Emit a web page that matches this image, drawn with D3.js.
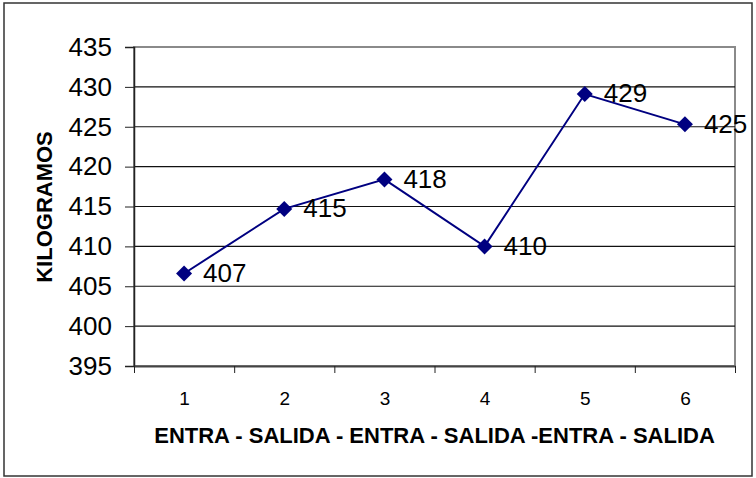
<!DOCTYPE html>
<html>
<head>
<meta charset="utf-8">
<script src="https://cdn.jsdelivr.net/npm/d3@7"></script>
<style>
  html, body { margin: 0; padding: 0; background: #fff; }
  svg { display: block; font-family: "Liberation Sans", Arial, sans-serif; }
</style>
</head>
<body>
<svg id="chart" width="756" height="478"></svg>
<script>
// Weight readings per measurement (entra / salida alternating)
const categories = [1, 2, 3, 4, 5, 6];
const kilogramos = [406.6, 414.7, 418.4, 410.0, 429.1, 425.3];
const yTicks = [395, 400, 405, 410, 415, 420, 425, 430, 435];
const xTitle = "ENTRA - SALIDA - ENTRA - SALIDA -ENTRA - SALIDA";
const yTitle = "KILOGRAMOS";

const svg = d3.select("#chart");
const m = { left: 134, top: 47, right: 21, bottom: 112 };
const W = 756 - m.left - m.right;
const H = 478 - m.top - m.bottom;

// outer chart frame
svg.append("rect")
  .attr("x", 4).attr("y", 3).attr("width", 748).attr("height", 473)
  .attr("fill", "#fff").attr("stroke", "#333").attr("stroke-width", 1.5);

const g = svg.append("g").attr("transform", `translate(${m.left},${m.top})`);

const x = d3.scaleLinear().domain([0.5, 6.5]).range([0, W]);
const y = d3.scaleLinear().domain([395, 435]).range([H, 0]);

// plot area border
g.append("rect")
  .attr("x", 0).attr("y", 0).attr("width", W).attr("height", H)
  .attr("fill", "none").attr("stroke", "#8a8a8a").attr("stroke-width", 2);

// horizontal gridlines
g.append("g")
  .selectAll("line")
  .data(yTicks.slice(1, -1))
  .join("line")
  .attr("x1", 0).attr("x2", W)
  .attr("y1", d => y(d)).attr("y2", d => y(d))
  .attr("stroke", "#111").attr("stroke-width", 1.2);

// y axis
const yAxis = g.append("g")
  .call(d3.axisLeft(y).tickValues(yTicks).tickSize(9).tickPadding(13).tickFormat(d3.format("d")));
yAxis.select(".domain").attr("stroke", "#222").attr("stroke-width", 1.5);
yAxis.selectAll(".tick line").attr("stroke", "#222");
yAxis.selectAll("text")
  .attr("fill", "#000").style("font-size", "26px").style("font-family", "Liberation Sans, Arial, sans-serif");

// x axis: tick marks between categories
const boundaries = d3.range(0.5, 7, 1);
const xTickAxis = g.append("g")
  .attr("transform", `translate(0,${H})`)
  .call(d3.axisBottom(x).tickValues(boundaries).tickSize(7).tickSizeOuter(0).tickFormat(""));
xTickAxis.select(".domain").attr("stroke", "#444").attr("stroke-width", 2);
xTickAxis.selectAll(".tick line").attr("stroke", "#222");

// x axis: category labels centred in each slot
const xLabelAxis = g.append("g")
  .attr("transform", `translate(0,${H})`)
  .call(d3.axisBottom(x).tickValues(categories).tickSize(0).tickPadding(26).tickFormat(d3.format("d")));
xLabelAxis.select(".domain").remove();
xLabelAxis.selectAll("text")
  .attr("fill", "#000").style("font-size", "19px").style("font-family", "Liberation Sans, Arial, sans-serif");

// series line
const line = d3.line()
  .x((d, i) => x(categories[i]))
  .y(d => y(d));
g.append("path")
  .datum(kilogramos)
  .attr("d", line)
  .attr("fill", "none")
  .attr("stroke", "#000080")
  .attr("stroke-width", 2);

// diamond markers
const s = 8;
g.append("g")
  .selectAll("path")
  .data(kilogramos)
  .join("path")
  .attr("transform", (d, i) => `translate(${x(categories[i])},${y(d)})`)
  .attr("d", `M0,${-s}L${s},0L0,${s}L${-s},0Z`)
  .attr("fill", "#000080");

// value labels
g.append("g")
  .selectAll("text")
  .data(kilogramos)
  .join("text")
  .attr("x", (d, i) => x(categories[i]) + 19)
  .attr("y", d => y(d))
  .attr("dy", "0.32em")
  .style("font-size", "26px")
  .attr("fill", "#000")
  .text(d => d3.format(".0f")(d));

// axis titles
svg.append("text")
  .attr("x", m.left + W / 2)
  .attr("y", 443)
  .attr("text-anchor", "middle")
  .style("font-size", "22px")
  .style("font-weight", "bold")
  .text(xTitle);

svg.append("text")
  .attr("transform", `translate(52,${207}) rotate(-90)`)
  .attr("text-anchor", "middle")
  .style("font-size", "22px")
  .style("font-weight", "bold")
  .text(yTitle);
</script>
</body>
</html>
